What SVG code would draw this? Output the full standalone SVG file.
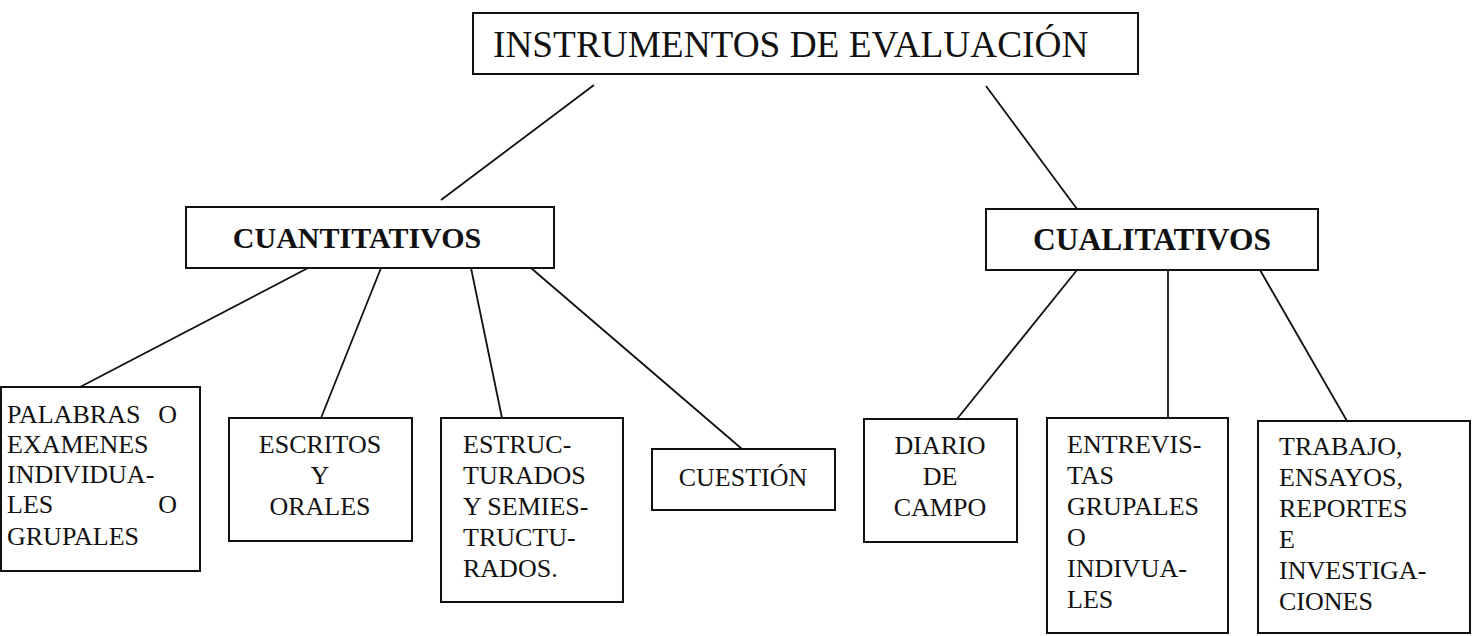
<svg xmlns="http://www.w3.org/2000/svg" width="1477" height="636" viewBox="0 0 1477 636">
<style>
.box{fill:#fff;stroke:#111;stroke-width:2}
.ln{stroke:#111;stroke-width:1.8;fill:none}
.t{font-family:'Liberation Serif','Times New Roman',Times,serif;font-size:26px;fill:#111}
.h{font-size:37.3px}
.b{font-weight:bold;font-size:30px}
.b2{font-size:31.5px}
.c{text-anchor:middle}
.e{text-anchor:end}
</style>
<rect width="1477" height="636" fill="#fff"/>
<g id="connectors">
<line class="ln" x1="594" y1="85" x2="441" y2="200"/>
<line class="ln" x1="986" y1="86" x2="1077" y2="209"/>
<line class="ln" x1="308" y1="268" x2="80" y2="387"/>
<line class="ln" x1="381" y1="268" x2="321" y2="418"/>
<line class="ln" x1="471" y1="268" x2="502" y2="418"/>
<line class="ln" x1="531" y1="268" x2="742" y2="449"/>
<line class="ln" x1="1077" y1="270" x2="957" y2="419"/>
<line class="ln" x1="1168" y1="270" x2="1168" y2="418"/>
<line class="ln" x1="1260" y1="270" x2="1347" y2="421"/>
</g>
<g id="title">
<rect class="box" x="473" y="13" width="665" height="61"/>
<text class="t h" x="493" y="57">INSTRUMENTOS DE EVALUACIÓN</text>
</g>
<g id="cuantitativos">
<rect class="box" x="186" y="207" width="368" height="61"/>
<text class="t b c" x="357" y="248">CUANTITATIVOS</text>
</g>
<g id="cualitativos">
<rect class="box" x="986" y="209" width="332" height="61"/>
<text class="t b b2 c" x="1152" y="250">CUALITATIVOS</text>
</g>
<g id="palabras">
<rect class="box" x="1" y="387" width="199" height="184"/>
<text class="t" x="7" y="423">PALABRAS</text>
<text class="t e" x="177" y="423">O</text>
<text class="t" x="7" y="453">EXAMENES</text>
<text class="t" x="7" y="483">INDIVIDUA-</text>
<text class="t" x="7" y="513">LES</text>
<text class="t e" x="177" y="513">O</text>
<text class="t" x="7" y="545">GRUPALES</text>
</g>
<g id="escritos">
<rect class="box" x="229" y="418" width="183" height="123"/>
<text class="t c" x="320" y="453">ESCRITOS</text>
<text class="t c" x="320" y="484">Y</text>
<text class="t c" x="320" y="515">ORALES</text>
</g>
<g id="estructurados">
<rect class="box" x="441" y="418" width="182" height="184"/>
<text class="t" x="463" y="453">ESTRUC-</text>
<text class="t" x="463" y="484">TURADOS</text>
<text class="t" x="463" y="515">Y SEMIES-</text>
<text class="t" x="463" y="546">TRUCTU-</text>
<text class="t" x="463" y="577">RADOS.</text>
</g>
<g id="cuestion">
<rect class="box" x="652" y="449" width="183" height="61"/>
<text class="t c" x="743" y="486">CUESTIÓN</text>
</g>
<g id="diario">
<rect class="box" x="864" y="419" width="153" height="123"/>
<text class="t c" x="940" y="454">DIARIO</text>
<text class="t c" x="940" y="485">DE</text>
<text class="t c" x="940" y="516">CAMPO</text>
</g>
<g id="entrevistas">
<rect class="box" x="1047" y="418" width="181" height="215"/>
<text class="t" x="1067" y="453">ENTREVIS-</text>
<text class="t" x="1067" y="484">TAS</text>
<text class="t" x="1067" y="515">GRUPALES</text>
<text class="t" x="1067" y="546">O</text>
<text class="t" x="1067" y="577">INDIVUA-</text>
<text class="t" x="1067" y="608">LES</text>
</g>
<g id="trabajo">
<rect class="box" x="1258" y="421" width="212" height="212"/>
<text class="t" x="1279" y="455">TRABAJO,</text>
<text class="t" x="1279" y="486">ENSAYOS,</text>
<text class="t" x="1279" y="517">REPORTES</text>
<text class="t" x="1279" y="548">E</text>
<text class="t" x="1279" y="579">INVESTIGA-</text>
<text class="t" x="1279" y="610">CIONES</text>
</g>
</svg>
